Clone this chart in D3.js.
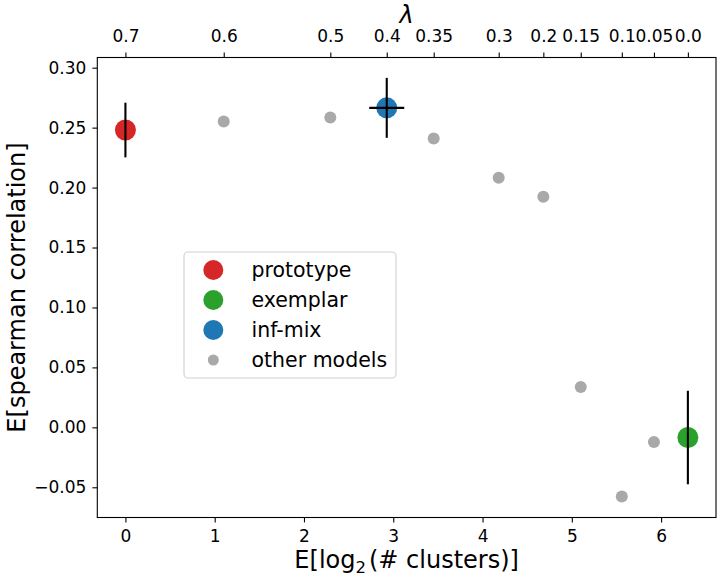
<!DOCTYPE html>
<html>
<head>
<meta charset="utf-8">
<script src="https://cdn.jsdelivr.net/npm/d3@7/dist/d3.min.js"></script>
<style>
  html, body { margin: 0; padding: 0; background: #fff; }
  svg { display: block; font-family: "DejaVu Sans", sans-serif; }
</style>
</head>
<body>
<svg id="chart" width="720" height="579"></svg>
<script>
// ---- data ----
const lambdaLabels = ["0.7", "0.6", "0.5", "0.4", "0.35", "0.3", "0.2", "0.15", "0.1", "0.05", "0.0"];
const logClusters  = [0, 1.101, 2.295, 2.927, 3.453, 4.181, 4.681, 5.10, 5.56, 5.92, 6.30];
const spearman     = [0.248, 0.2552, 0.2585, 0.2665, 0.241, 0.2082, 0.1923, 0.0337, -0.0577, -0.0123, -0.0085];
const modelType    = ["prototype", "other", "other", "inf-mix", "other", "other", "other", "other", "other", "other", "exemplar"];
const yErr         = [0.0228, null, null, 0.025, null, null, null, null, null, null, 0.039];
const xErr         = [null, null, null, 0.196, null, null, null, null, null, null, null];
const xTicks = [0, 1, 2, 3, 4, 5, 6];
const yTicks = [-0.05, 0.00, 0.05, 0.10, 0.15, 0.20, 0.25, 0.30];
const legendNames  = ["prototype", "exemplar", "inf-mix", "other models"];
const legendKeys   = ["prototype", "exemplar", "inf-mix", "other"];

const colors = { "prototype": "#d62728", "exemplar": "#2ca02c", "inf-mix": "#1f77b4", "other": "#a9a9a9" };
const radius = { "prototype": 10.5, "exemplar": 10.5, "inf-mix": 10.5, "other": 6 };

// ---- layout ----
const L = 97.3, R = 716, T = 57.5, B = 517.5;
const svg = d3.select("#chart");

const x = d3.scaleLinear().domain([-0.315, 6.615]).range([L, R]);
const y = d3.scaleLinear().domain([-0.0752, 0.3085]).range([B, T]);

const pts = logClusters.map((v, i) => ({ x: v, y: spearman[i], t: modelType[i], ye: yErr[i], xe: xErr[i], lam: lambdaLabels[i] }));

// axes
const tickFont = "17px";
const xAxis = svg.append("g").attr("transform", `translate(0,${B})`)
  .call(d3.axisBottom(x).tickValues(xTicks).tickFormat(d3.format("d")).tickSize(4.9).tickPadding(7.5));
const yAxis = svg.append("g").attr("transform", `translate(${L},0)`)
  .call(d3.axisLeft(y).tickValues(yTicks).tickFormat(d => d3.format(".2f")(d).replace("-", "\u2212")).tickSize(4.9).tickPadding(6));
const topAxis = svg.append("g").attr("transform", `translate(0,${T})`)
  .call(d3.axisTop(x).tickValues(logClusters).tickFormat((d, i) => lambdaLabels[i]).tickSize(4.9).tickPadding(10.5));

[xAxis, yAxis, topAxis].forEach(g => {
  g.select(".domain").remove();
  g.selectAll(".tick line").attr("stroke", "#000").attr("stroke-width", 1.1);
  g.selectAll(".tick text").attr("fill", "#000").style("font-size", tickFont).style("font-family", "DejaVu Sans");
});

// frame
svg.append("rect").attr("x", L).attr("y", T).attr("width", R - L).attr("height", B - T)
  .attr("fill", "none").attr("stroke", "#000").attr("stroke-width", 1.1);

// points
const plot = svg.append("g");
plot.selectAll("circle.pt").data(pts).join("circle")
  .attr("class", "pt")
  .attr("cx", d => x(d.x)).attr("cy", d => y(d.y))
  .attr("r", d => radius[d.t]).attr("fill", d => colors[d.t]);

// error bars (on top)
pts.filter(d => d.ye != null).forEach(d => {
  plot.append("line").attr("x1", x(d.x)).attr("x2", x(d.x))
    .attr("y1", y(d.y - d.ye)).attr("y2", y(d.y + d.ye))
    .attr("stroke", "#000").attr("stroke-width", 2.1);
});
pts.filter(d => d.xe != null).forEach(d => {
  plot.append("line").attr("x1", x(d.x - d.xe)).attr("x2", x(d.x + d.xe))
    .attr("y1", y(d.y)).attr("y2", y(d.y))
    .attr("stroke", "#000").attr("stroke-width", 2.1);
});

// axis labels
const labelFont = "24px";
const xl = svg.append("text").attr("x", (L + R) / 2).attr("y", 568).attr("text-anchor", "middle")
  .style("font-size", labelFont).attr("fill", "#000");
xl.append("tspan").text("E[log");
xl.append("tspan").text("2").attr("dy", 5).style("font-size", "16.5px");
xl.append("tspan").text("(# clusters)]").attr("dy", -5).attr("dx", 3);

svg.append("text").attr("transform", `translate(25,${(T + B) / 2}) rotate(-90)`)
  .attr("text-anchor", "middle").style("font-size", labelFont).attr("fill", "#000")
  .text("E[spearman correlation]");

svg.append("text").attr("x", (L + R) / 2).attr("y", 23).attr("text-anchor", "middle")
  .style("font-size", labelFont).style("font-style", "italic").attr("fill", "#000").text("λ");

// legend
const lg = svg.append("g");
lg.append("rect").attr("x", 184).attr("y", 252).attr("width", 212).attr("height", 126)
  .attr("rx", 4).attr("fill", "#fff").attr("fill-opacity", 0.8).attr("stroke", "#d0d0d0").attr("stroke-width", 1.1);
legendKeys.forEach((k, i) => {
  const cy = 270 + i * 30;
  lg.append("circle").attr("cx", 213.3).attr("cy", cy).attr("r", radius[k] - 0.5).attr("fill", colors[k]);
  lg.append("text").attr("x", 251.5).attr("y", cy).attr("dy", "0.35em")
    .style("font-size", "20.5px").attr("fill", "#000").text(legendNames[i]);
});
</script>
</body>
</html>
